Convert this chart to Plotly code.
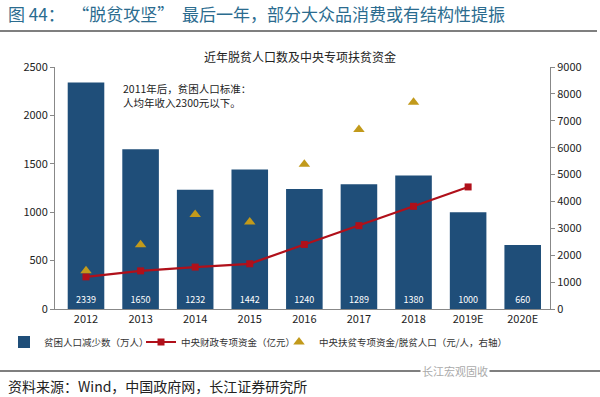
import plotly.graph_objects as go

years = ["2012", "2013", "2014", "2015", "2016", "2017", "2018", "2019E", "2020E"]
poverty_reduction = [2339, 1650, 1232, 1442, 1240, 1289, 1380, 1000, 660]
line_years = ["2012", "2013", "2014", "2015", "2016", "2017", "2018", "2019E"]
central_funds = [332, 394, 433, 467, 667, 861, 1061, 1261]
tri_years = ["2012", "2013", "2014", "2015", "2016", "2017", "2018"]
funds_per_person = [1420, 2388, 3515, 3238, 5379, 6680, 7688]

FONT = "Noto Sans CJK SC, Liberation Sans, Arial, sans-serif"
BAR = "#1F4E79"
RED = "#B0101A"
GOLD = "#C29A1B"

L, R, T, B = 55, 550, 67, 309
W, H = 600, 397
def px(x):
    return (x - L) / (R - L)
def py(y):
    return (B - y) / (B - T)

fig = go.Figure()
fig.add_trace(go.Bar(
    x=years, y=poverty_reduction, name="贫困人口减少数（万人）",
    marker=dict(color=BAR, line=dict(width=0)),
    text=[str(v) for v in poverty_reduction], textposition="inside",
    insidetextanchor="start", textangle=0,
    textfont=dict(color="white", size=9, family=FONT),
    yaxis="y", legend="legend",
))
fig.add_trace(go.Scatter(
    x=line_years, y=central_funds, name="中央财政专项资金（亿元）",
    mode="lines+markers", line=dict(color=RED, width=2.2),
    marker=dict(symbol="square", size=7, color=RED),
    yaxis="y", legend="legend2",
))
fig.add_trace(go.Scatter(
    x=tri_years, y=funds_per_person, name="中央扶贫专项资金/脱贫人口（元/人，右轴）",
    mode="markers", marker=dict(symbol="triangle-up", size=10, color=GOLD),
    yaxis="y2", legend="legend3",
))

def leg(xpx):
    return dict(orientation="h", xref="paper", yref="paper",
                x=px(xpx), xanchor="left", y=py(342), yanchor="middle",
                font=dict(size=9.5, color="#333", family=FONT), itemwidth=30,
                bgcolor="rgba(0,0,0,0)")

fig.update_layout(
    width=W, height=H,
    margin=dict(l=L, r=W - R, t=T, b=H - B, autoexpand=False),
    paper_bgcolor="white", plot_bgcolor="white",
    font=dict(family=FONT, size=11, color="#222"),
    bargap=0.33,
    showlegend=True,
    legend=leg(4), legend2=leg(141), legend3=leg(279),
    xaxis=dict(type="category", showgrid=False, showline=True, linecolor="#888",
               linewidth=1, ticks="", tickfont=dict(size=11, color="#222")),
    yaxis=dict(range=[0, 2500], dtick=500, showgrid=False, showline=True,
               linecolor="#888", linewidth=1, ticks="outside", ticklen=4,
               tickcolor="#888", tickfont=dict(size=11, color="#222"), zeroline=False),
    yaxis2=dict(range=[0, 9000], dtick=1000, overlaying="y", side="right",
                showgrid=False, showline=True, linecolor="#888", linewidth=1,
                ticks="outside", ticklen=4, tickcolor="#888",
                tickfont=dict(size=11, color="#222"), zeroline=False),
)

annotations = [
    dict(text="图 44：  “脱贫攻坚”  最后一年，部分大众品消费或有结构性提振",
         x=px(6), y=py(14), xanchor="left", yanchor="middle",
         font=dict(size=17, color="#2B6C8F", family=FONT)),
    dict(text="近年脱贫人口数及中央专项扶贫资金",
         x=px(300), y=py(57), xanchor="center", yanchor="middle",
         font=dict(size=12, color="#222", family=FONT)),
    dict(text="2011年后，贫困人口标准：",
         x=px(121), y=py(88), xanchor="left", yanchor="middle", align="left",
         font=dict(size=10.5, color="#222", family=FONT)),
    dict(text="人均年收入2300元以下。",
         x=px(121), y=py(103), xanchor="left", yanchor="middle", align="left",
         font=dict(size=10.5, color="#222", family=FONT)),
    dict(text="资料来源：Wind，中国政府网，长江证券研究所",
         x=px(6), y=py(386), xanchor="left", yanchor="middle",
         font=dict(size=14, color="#222", family=FONT)),
    dict(text="长江宏观固收",
         x=px(455), y=py(371), xanchor="center", yanchor="middle",
         bgcolor="white", font=dict(size=11, color="#aaa", family=FONT)),
]
for a in annotations:
    a.update(xref="paper", yref="paper", showarrow=False)
    fig.add_annotation(**a)

fig.add_shape(type="line", xref="paper", yref="paper",
              x0=px(0), x1=px(597), y0=py(31), y1=py(31),
              line=dict(color="black", width=1.2))
fig.add_shape(type="line", xref="paper", yref="paper",
              x0=px(0), x1=px(600), y0=py(371), y1=py(371),
              line=dict(color="black", width=1.2), layer="below")

fig.write_html("out.html", config={"displayModeBar": False},
               post_script="document.body.style.margin='0';document.body.style.padding='0';")
